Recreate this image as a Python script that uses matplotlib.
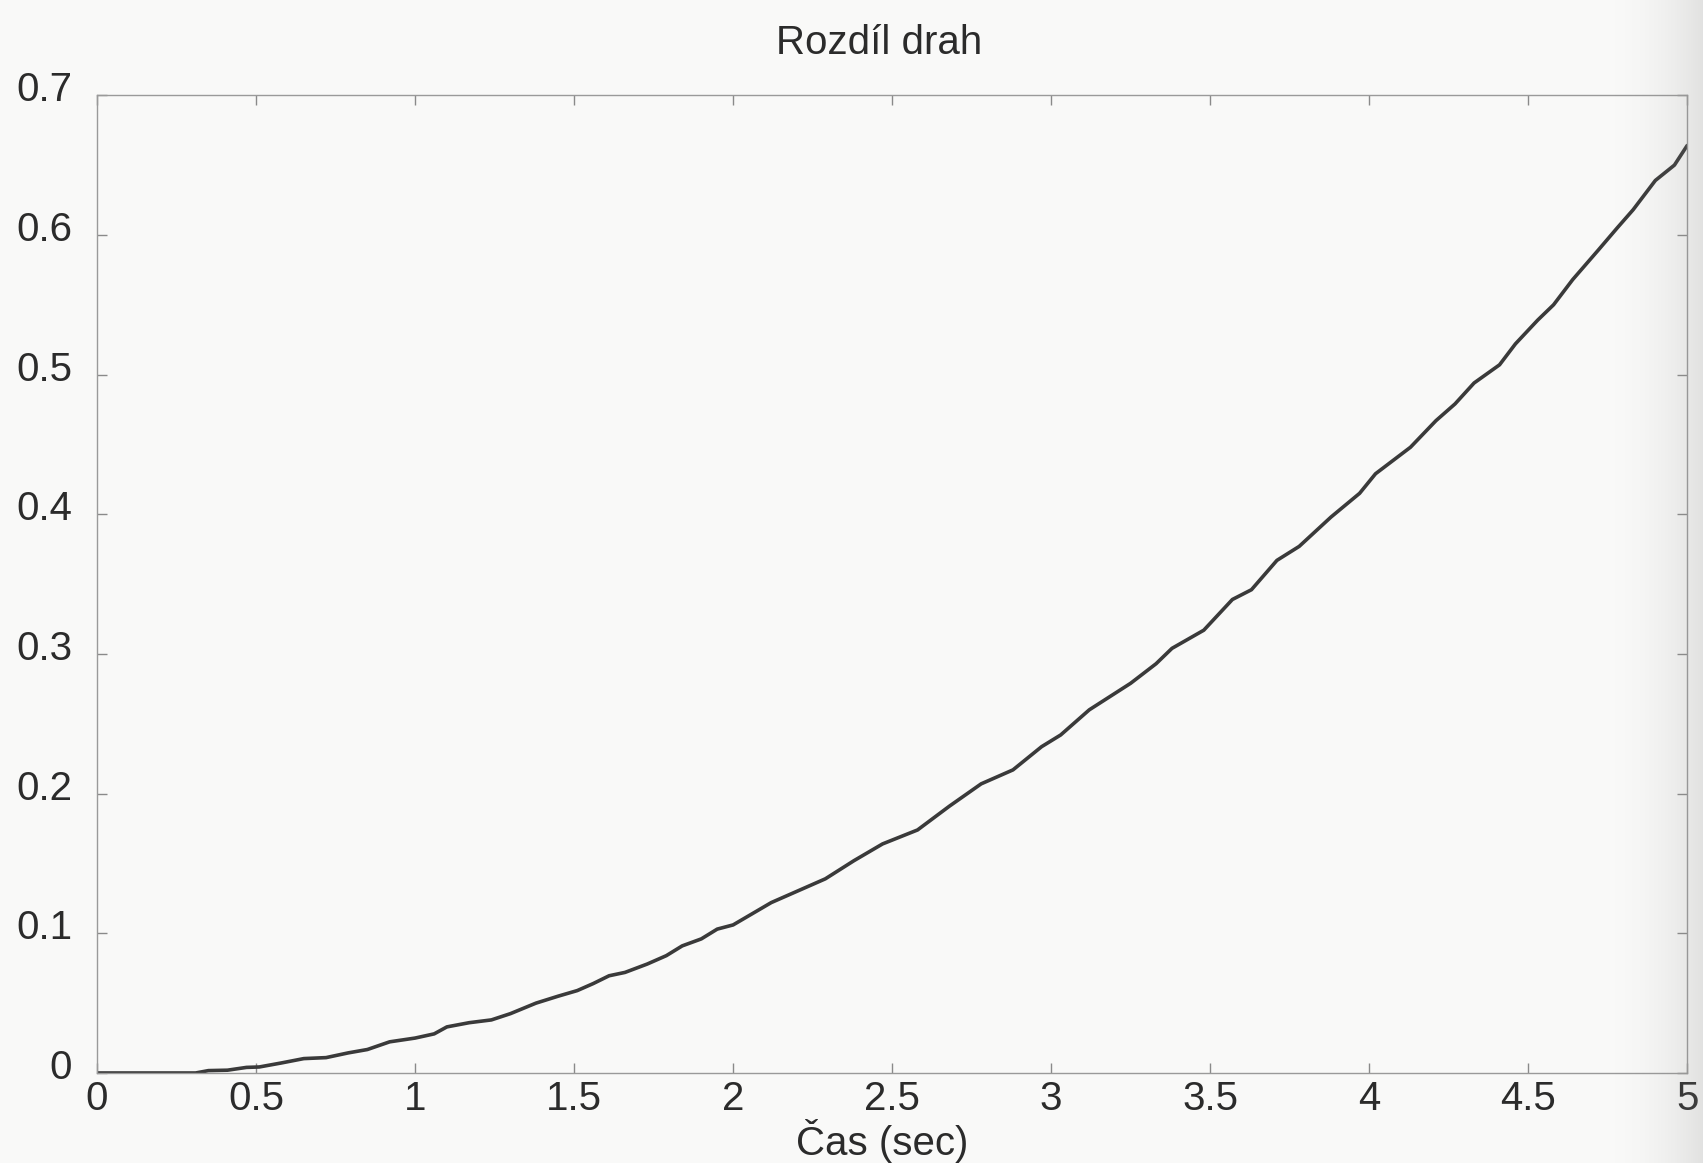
import numpy as np
import matplotlib.pyplot as plt
from matplotlib import transforms

plt.rcParams['font.family'] = ['Liberation Sans', 'DejaVu Sans']

# čas a rozdíl drah odečtené z průběhu
cas = [0.0, 0.1, 0.2, 0.31, 0.35, 0.41, 0.47, 0.51, 0.58, 0.65, 0.72, 0.79,
       0.85, 0.92, 1.0, 1.06, 1.10, 1.17, 1.24, 1.30, 1.38, 1.45, 1.51, 1.56,
       1.61, 1.66, 1.73, 1.79, 1.84, 1.90, 1.95, 2.0, 2.06, 2.12, 2.16, 2.29,
       2.38, 2.47, 2.58, 2.68, 2.78, 2.88, 2.97, 3.03, 3.12, 3.25, 3.33, 3.38,
       3.48, 3.57, 3.63, 3.71, 3.78, 3.88, 3.97, 4.02, 4.13, 4.21, 4.27, 4.33,
       4.41, 4.46, 4.53, 4.58, 4.64, 4.72, 4.78, 4.83, 4.90, 4.96, 5.0]
rozdil = [0.0, 0.0, 0.0, 0.0, 0.0017, 0.002, 0.004, 0.0043, 0.0072, 0.0103,
          0.011, 0.0144, 0.0168, 0.0223, 0.025, 0.028, 0.033, 0.036, 0.038,
          0.0425, 0.050, 0.055, 0.059, 0.064, 0.0696, 0.072, 0.078, 0.084,
          0.091, 0.096, 0.103, 0.106, 0.114, 0.122, 0.126, 0.139, 0.152,
          0.164, 0.174, 0.191, 0.207, 0.217, 0.2336, 0.242, 0.26, 0.279, 0.293,
          0.304, 0.317, 0.339, 0.346, 0.367, 0.377, 0.398, 0.415, 0.429, 0.448,
          0.467, 0.479, 0.494, 0.507, 0.522, 0.539, 0.550, 0.568, 0.589, 0.605,
          0.618, 0.639, 0.650, 0.664]

xticks = [0, 0.5, 1, 1.5, 2, 2.5, 3, 3.5, 4, 4.5, 5]
xticklabels = ['0', '0.5', '1', '1.5', '2', '2.5', '3', '3.5', '4', '4.5', '5']
yticks = [0, 0.1, 0.2, 0.3, 0.4, 0.5, 0.6, 0.7]
yticklabels = ['0', '0.1', '0.2', '0.3', '0.4', '0.5', '0.6', '0.7']

paper = '#f9f9f8'
ink = '#2b2b2b'

fig = plt.figure(figsize=(17.03, 11.63), dpi=100, facecolor=paper)
ax = fig.add_axes([0.057, 0.0774, 0.9337, 0.8407], facecolor=paper)

ax.plot(cas, rozdil, color='#3a3a3a', lw=2.6, solid_joinstyle='round',
        solid_capstyle='round')

ax.set_xlim(0, 5)
ax.set_ylim(0, 0.7)
ax.set_xticks(xticks)
ax.set_xticklabels(xticklabels)
ax.set_yticks(yticks)
ax.set_yticklabels(yticklabels)

ax.tick_params(direction='in', length=7, width=1, color='#8a8a8a',
               top=True, right=True, labelsize=29, labelcolor=ink)
ax.tick_params(axis='x', pad=5)
ax.tick_params(axis='y', pad=18)

# popisky osy y jsou o kousek výš
posun = transforms.ScaledTranslation(0, 9 / 100, fig.dpi_scale_trans)
for lab in ax.get_yticklabels():
    lab.set_transform(lab.get_transform() + posun)

for s in ax.spines.values():
    s.set_color('#9a9a9a')
    s.set_linewidth(1.0)

titulek = ax.set_title('Rozdíl drah', fontsize=29, color=ink, pad=30)
popis = ax.set_xlabel('Čas (sec)', fontsize=29, color=ink, labelpad=1)
# nadpis i popisek osy x jsou mírně vlevo od středu
titulek.set_transform(titulek.get_transform() +
                      transforms.ScaledTranslation(-13 / 100, 0, fig.dpi_scale_trans))
popis.set_x(0.494)

# stín u pravého okraje stránky (šedá s rostoucí průhledností)
stin = fig.add_axes([0.94, 0, 0.06, 1], zorder=5)
stin.patch.set_alpha(0)
ramp = np.linspace(0, 1, 128) ** 2
rgba = np.zeros((1, 128, 4))
rgba[..., :3] = 0.55
rgba[..., 3] = 0.22 * ramp
stin.imshow(rgba, aspect='auto', extent=[0, 1, 0, 1], interpolation='bilinear')
stin.axis('off')

fig.savefig('out.png', dpi=100, facecolor=paper)
